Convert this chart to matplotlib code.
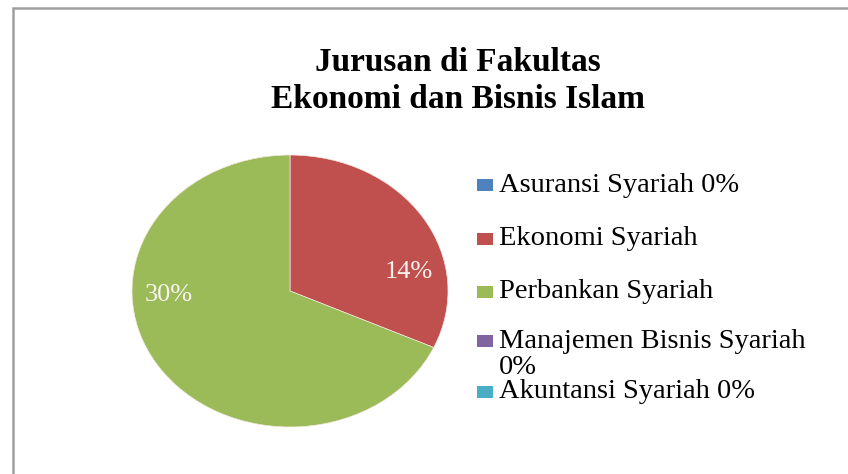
import numpy as np
import matplotlib.pyplot as plt
from matplotlib.patches import Rectangle

# data
jurusan = ["Asuransi Syariah", "Ekonomi Syariah", "Perbankan Syariah",
           "Manajemen Bisnis Syariah", "Akuntansi Syariah"]
nilai = [0, 14, 30, 0, 0]
warna = ["#4F81BD", "#C0504D", "#9BBB59", "#8064A2", "#4BACC6"]
legend_labels = ["Asuransi Syariah 0%", "Ekonomi Syariah", "Perbankan Syariah",
                 "Manajemen Bisnis Syariah\n0%", "Akuntansi Syariah 0%"]

plt.rcParams['font.family'] = ['Liberation Serif', 'DejaVu Serif']

W, H = 848, 474
fig = plt.figure(figsize=(W / 100, H / 100), dpi=100)

# chart frame
fig.patches.append(Rectangle((13 / W, -0.1), 1.2, 1 - 8 / H + 0.1, transform=fig.transFigure,
                             fill=False, edgecolor="#a0a0a0", linewidth=1.8))

fig.text(458 / W, 1 - 81 / H, "Jurusan di Fakultas\nEkonomi dan Bisnis Islam",
         ha="center", va="center", fontsize=24, fontweight="bold", linespacing=1.25)

# pie (slightly stretched, like the original)
cx, cy, rx, ry = 290, 291, 158, 136
ax = fig.add_axes([(cx - rx) / W, 1 - (cy + ry) / H, 2 * rx / W, 2 * ry / H])
keep = [i for i, v in enumerate(nilai) if v > 0]
wedges, _ = ax.pie([nilai[i] for i in keep], colors=[warna[i] for i in keep],
                   startangle=90, counterclock=False,
                   wedgeprops=dict(edgecolor="#f4e8e0", linewidth=0.5))
ax.set_aspect("auto")
ax.set_xlim(-1, 1)
ax.set_ylim(-1, 1)

# data labels (raw value with %)
label_pos = {1: (0.75, 0.14), 2: (-0.77, -0.03)}
for i in keep:
    x, y = label_pos[i]
    ax.text(x, y, f"{nilai[i]}%", color="#fbf4ee", fontsize=19,
            ha="center", va="center")

# legend drawn by hand to follow the original spacing
fs = 20.5
tx = 499 / W
legend_y = [185, 239, 292, 341, 392]
for lbl, c, y in zip(legend_labels, warna, legend_y):
    if "\n" in lbl:
        first, second = lbl.split("\n")
        fig.text(tx, 1 - y / H, first, ha="left", va="center", fontsize=fs)
        fig.text(tx, 1 - 368 / H, second, ha="left", va="center", fontsize=fs)
    else:
        fig.text(tx, 1 - y / H, lbl, ha="left", va="center", fontsize=fs)
    fig.patches.append(Rectangle((477 / W, 1 - (y + 6) / H), 16 / W, 12 / H,
                                 transform=fig.transFigure, facecolor=c, edgecolor="none"))

plt.savefig("out.png", dpi=100)
